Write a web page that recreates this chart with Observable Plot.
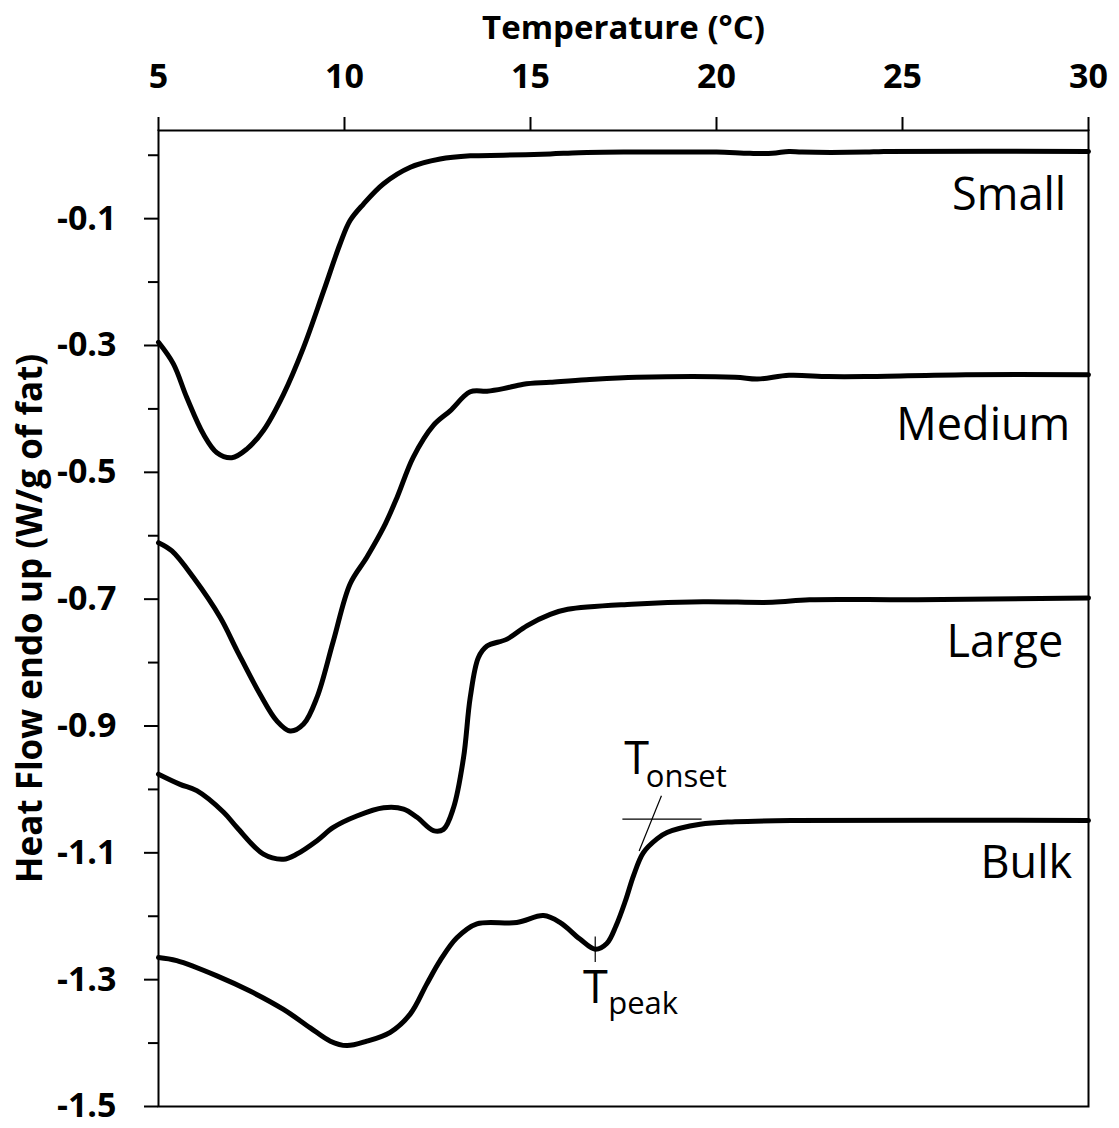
<!DOCTYPE html>
<html>
<head>
<meta charset="utf-8">
<script src="https://cdn.jsdelivr.net/npm/d3@7"></script>
<script src="https://cdn.jsdelivr.net/npm/@observablehq/plot@0.6"></script>
<style>
  html, body { margin: 0; padding: 0; background: #fff; }
</style>
</head>
<body>
<div id="chart"></div>
<script>
// ---- Data ----
const tempSmall = [5.00, 5.40, 5.76, 6.21, 6.57, 6.97, 7.38, 7.82, 8.36, 8.90, 9.44, 9.88, 10.15, 10.51, 11.05, 11.77, 12.57, 13.38, 14.27, 15.53, 16.30, 17.50, 18.50, 20.00, 20.90, 21.50, 21.95, 22.30, 24.00, 24.50, 30.00];
const flowSmall = [-0.295, -0.329, -0.382, -0.440, -0.469, -0.477, -0.463, -0.434, -0.377, -0.303, -0.214, -0.140, -0.103, -0.077, -0.045, -0.019, -0.006, -0.001, 0.000, 0.002, 0.004, 0.005, 0.005, 0.005, 0.003, 0.003, 0.006, 0.005, 0.005, 0.006, 0.006];

const tempMedium = [5.00, 5.36, 5.94, 6.66, 7.11, 7.73, 8.18, 8.54, 8.90, 9.26, 9.70, 10.15, 10.60, 11.05, 11.41, 11.85, 12.39, 12.84, 13.38, 13.83, 14.27, 14.81, 15.53, 16.50, 17.86, 20.50, 21.10, 21.95, 23.00, 24.00, 26.70, 30.00];
const flowMedium = [-0.611, -0.624, -0.666, -0.729, -0.781, -0.850, -0.892, -0.908, -0.897, -0.855, -0.766, -0.676, -0.634, -0.587, -0.540, -0.476, -0.426, -0.403, -0.373, -0.372, -0.368, -0.361, -0.358, -0.354, -0.350, -0.350, -0.353, -0.347, -0.349, -0.349, -0.346, -0.346];

const tempLarge = [5.00, 5.58, 6.03, 6.75, 7.11, 7.82, 8.36, 8.72, 9.26, 9.70, 10.33, 11.05, 11.59, 11.95, 12.39, 12.66, 12.93, 13.20, 13.38, 13.60, 13.83, 14.37, 14.90, 15.53, 16.00, 17.72, 19.64, 21.50, 22.50, 25.40, 30.00];
const flowLarge = [-0.976, -0.992, -1.002, -1.036, -1.060, -1.102, -1.110, -1.102, -1.081, -1.060, -1.042, -1.029, -1.031, -1.044, -1.065, -1.063, -1.029, -0.950, -0.855, -0.792, -0.774, -0.763, -0.742, -0.724, -0.716, -0.708, -0.704, -0.705, -0.701, -0.701, -0.698];

const tempBulk = [5.00, 5.49, 6.57, 7.46, 8.36, 9.08, 9.62, 10.06, 10.60, 11.23, 11.77, 12.21, 12.57, 13.02, 13.56, 14.63, 15.35, 15.80, 16.33, 16.74, 17.05, 17.30, 17.55, 17.77, 18.03, 18.40, 18.67, 19.56, 20.50, 22.00, 30.00];
const flowBulk = [-1.265, -1.270, -1.294, -1.318, -1.347, -1.376, -1.397, -1.404, -1.397, -1.383, -1.354, -1.307, -1.270, -1.234, -1.212, -1.210, -1.199, -1.210, -1.236, -1.252, -1.243, -1.215, -1.176, -1.136, -1.100, -1.078, -1.068, -1.055, -1.051, -1.049, -1.049];

const seriesNames = ["Small", "Medium", "Large", "Bulk"];
const labelTemp = [29.40, 29.51, 29.32, 29.56];
const labelFlow = [-0.064, -0.426, -0.769, -1.117];

const xTicks = [5, 10, 15, 20, 25, 30];
const yMajorTicks = [-1.5, -1.3, -1.1, -0.9, -0.7, -0.5, -0.3, -0.1];
const yMinorTicks = [-1.4, -1.2, -1.0, -0.8, -0.6, -0.4, -0.2, 0.0];

// annotation geometry (data coordinates)
const annoLines = [
  {x1: 16.74, y1: -1.232, x2: 16.74, y2: -1.272},   // Tpeak tick
  {x1: 17.47, y1: -1.047, x2: 19.60, y2: -1.047},   // baseline extension
  {x1: 18.52, y1: -1.010, x2: 17.92, y2: -1.097}    // tangent
];
const annoMain = [{t: 16.41, f: -1.337, s: "T"}, {t: 17.52, f: -0.975, s: "T"}];
const annoSub = [{t: 17.09, f: -1.354, s: "peak"}, {t: 18.10, f: -0.996, s: "onset"}];

// ---- Build table ----
const seriesT = [tempSmall, tempMedium, tempLarge, tempBulk];
const seriesF = [flowSmall, flowMedium, flowLarge, flowBulk];
const rows = [];
seriesNames.forEach((name, k) => {
  seriesT[k].forEach((t, i) => rows.push({series: name, T: t, flow: seriesF[k][i]}));
});
const labels = seriesNames.map((name, i) => ({name, T: labelTemp[i], flow: labelFlow[i]}));

const chart = Plot.plot({
  width: 1119,
  height: 1128,
  marginLeft: 158,
  marginRight: 31,
  marginTop: 130,
  marginBottom: 22,
  style: {fontFamily: "'Open Sans', sans-serif", color: "black", background: "white"},
  x: {domain: [5, 30], label: null},
  y: {domain: [-1.5, 0.039], label: null},
  marks: [
    Plot.frame({stroke: "black", strokeWidth: 2}),
    Plot.axisX(xTicks, {anchor: "top", tickSize: 14, tickPadding: 29, fontSize: 34, fontWeight: "bold", strokeWidth: 2, tickFormat: d => String(d), label: null}),
    Plot.axisY(yMajorTicks, {anchor: "left", tickSize: 14, tickPadding: 28, fontSize: 34, fontWeight: "bold", strokeWidth: 2, tickFormat: d => d.toFixed(1), label: null}),
    Plot.axisY(yMinorTicks, {anchor: "left", tickSize: 10, strokeWidth: 2, tickFormat: () => "", label: null}),
    Plot.line(rows, {x: "T", y: "flow", z: "series", stroke: "black", strokeWidth: 5, curve: "catmull-rom"}),
    Plot.link(annoLines, {x1: "x1", y1: "y1", x2: "x2", y2: "y2", stroke: "black", strokeWidth: 1.2}),
    Plot.text(labels, {x: "T", y: "flow", text: "name", textAnchor: "end", lineAnchor: "middle", fontSize: 45, fill: "black"}),
    Plot.text(annoMain, {x: "t", y: "f", text: "s", textAnchor: "start", lineAnchor: "bottom", fontSize: 45, fill: "black"}),
    Plot.text(annoSub, {x: "t", y: "f", text: "s", textAnchor: "start", lineAnchor: "bottom", fontSize: 31, fill: "black"}),
    Plot.text(["Temperature (°C)"], {text: d => d, frameAnchor: "top", dy: -92, lineAnchor: "bottom", fontSize: 33, fontWeight: "bold", fill: "black"}),
    Plot.text(["Heat Flow endo up (W/g of fat)"], {text: d => d, frameAnchor: "left", rotate: -90, dx: -117, textAnchor: "middle", lineAnchor: "bottom", fontSize: 35, fontWeight: "bold", fill: "black"})
  ]
});
document.getElementById("chart").appendChild(chart);
</script>
</body>
</html>
